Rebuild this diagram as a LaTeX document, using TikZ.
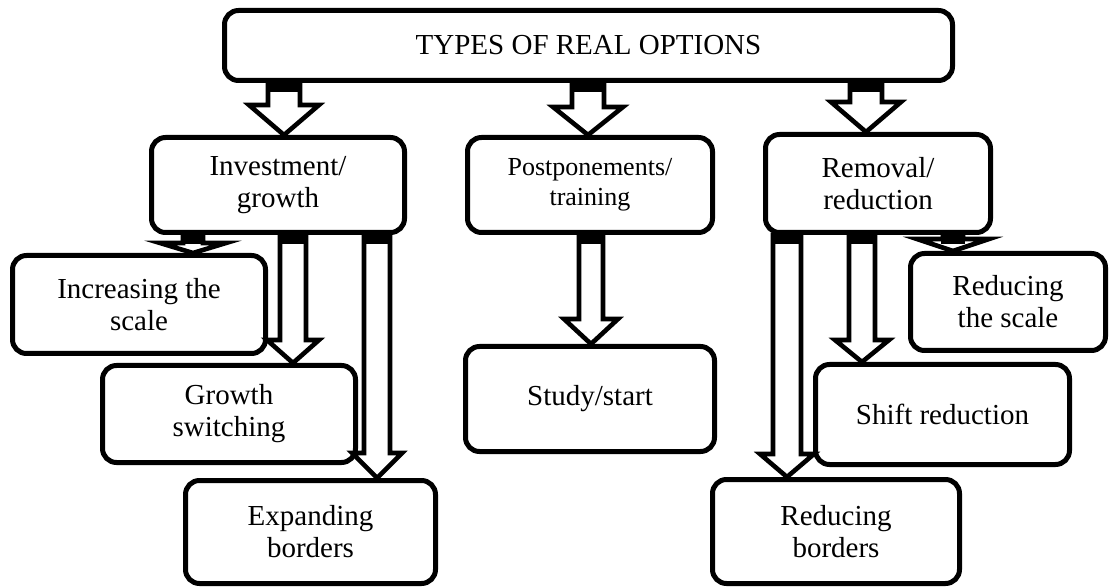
\documentclass[tikz,border=0pt]{standalone}
\usepackage{fontspec}
\setmainfont{Liberation Serif}
\usetikzlibrary{calc}
\tikzset{
  box/.style={draw=black, line width=2.5pt, rounded corners=7pt, fill=white,
    align=center, inner sep=0pt, font=\fontsize{14.5}{16}\selectfont},
  barrowline/.style={draw=black, fill=white, line width=2.3pt, line join=miter, miter limit=25},
  barrowcap/.style={fill=black},
}
% #1 x (px), #2 from node, #3 to node, #4 shaft half width (px), #5 head half width (px), #6 head length (px)
\newcommand\blockarrow[6]{%
  \path[barrowline] let \p1=(#1,0 |- #2.south), \p2=(#1,0 |- #3.north) in
    (\x1-#4*0.5pt,\y1) -- (\x1+#4*0.5pt,\y1) -- (\x1+#4*0.5pt,\y2+#6*0.5pt)
    -- (\x1+#5*0.5pt,\y2+#6*0.5pt) -- (\x1,\y2) -- (\x1-#5*0.5pt,\y2+#6*0.5pt)
    -- (\x1-#4*0.5pt,\y2+#6*0.5pt) -- cycle;
  \path[barrowcap] let \p1=(#1,0 |- #2.south) in
    (\x1-#4*0.5pt-1.2pt,\y1) rectangle (\x1+#4*0.5pt+1.2pt,\y1-9*0.5pt);
}
\begin{document}
\begin{tikzpicture}[x=0.5pt, y=-0.5pt]
\useasboundingbox (0,0) rectangle (1109,588);

\node[box, minimum width=364pt, minimum height=35pt] (top) at (588.5,45.5) {TYPES OF REAL OPTIONS};

\node[box, minimum width=126.5pt, minimum height=47.5pt] (inv) at (278,185) {Investment/\\growth};
\node[box, minimum width=122.5pt, minimum height=47.5pt, font=\fontsize{13}{15}\selectfont] (post) at (590,185) {Postponements/\\training};
\node[box, minimum width=112.5pt, minimum height=49pt] (rem) at (878,183.5) {Removal/\\reduction};

\node[box, minimum width=126.5pt, minimum height=49pt] (inc) at (139,304.5) {Increasing the\\scale};
\node[box, minimum width=126.5pt, minimum height=48.5pt] (grow) at (229,414) {Growth\\switching};
\node[box, minimum width=125pt, minimum height=51.5pt] (exp) at (310.5,532) {Expanding\\borders};

\node[box, minimum width=124.5pt, minimum height=52.5pt] (study) at (590,399) {Study/start};

\node[box, minimum width=97.5pt, minimum height=48.5pt] (rsc) at (1008,302) {Reducing\\the scale};
\node[box, minimum width=127pt, minimum height=50pt] (shift) at (942.5,414.5) {Shift reduction};
\node[box, minimum width=123.5pt, minimum height=52pt] (rbor) at (836,531.5) {Reducing\\borders};

\blockarrow{284}{top}{inv}{16}{35}{30}
\blockarrow{588}{top}{post}{16}{35}{28}
\blockarrow{866}{top}{rem}{16}{35}{30}

\blockarrow{193}{inv}{inc}{10}{33}{10}
\blockarrow{293}{inv}{grow}{13}{26}{23}
\blockarrow{377}{inv}{exp}{13}{25}{25}

\blockarrow{591}{post}{study}{12}{27}{25}

\blockarrow{953}{rem}{rsc}{10}{36}{12}
\blockarrow{862}{rem}{shift}{13}{27}{22}
\blockarrow{787}{rem}{rbor}{14}{27}{23}
\end{tikzpicture}
\end{document}
